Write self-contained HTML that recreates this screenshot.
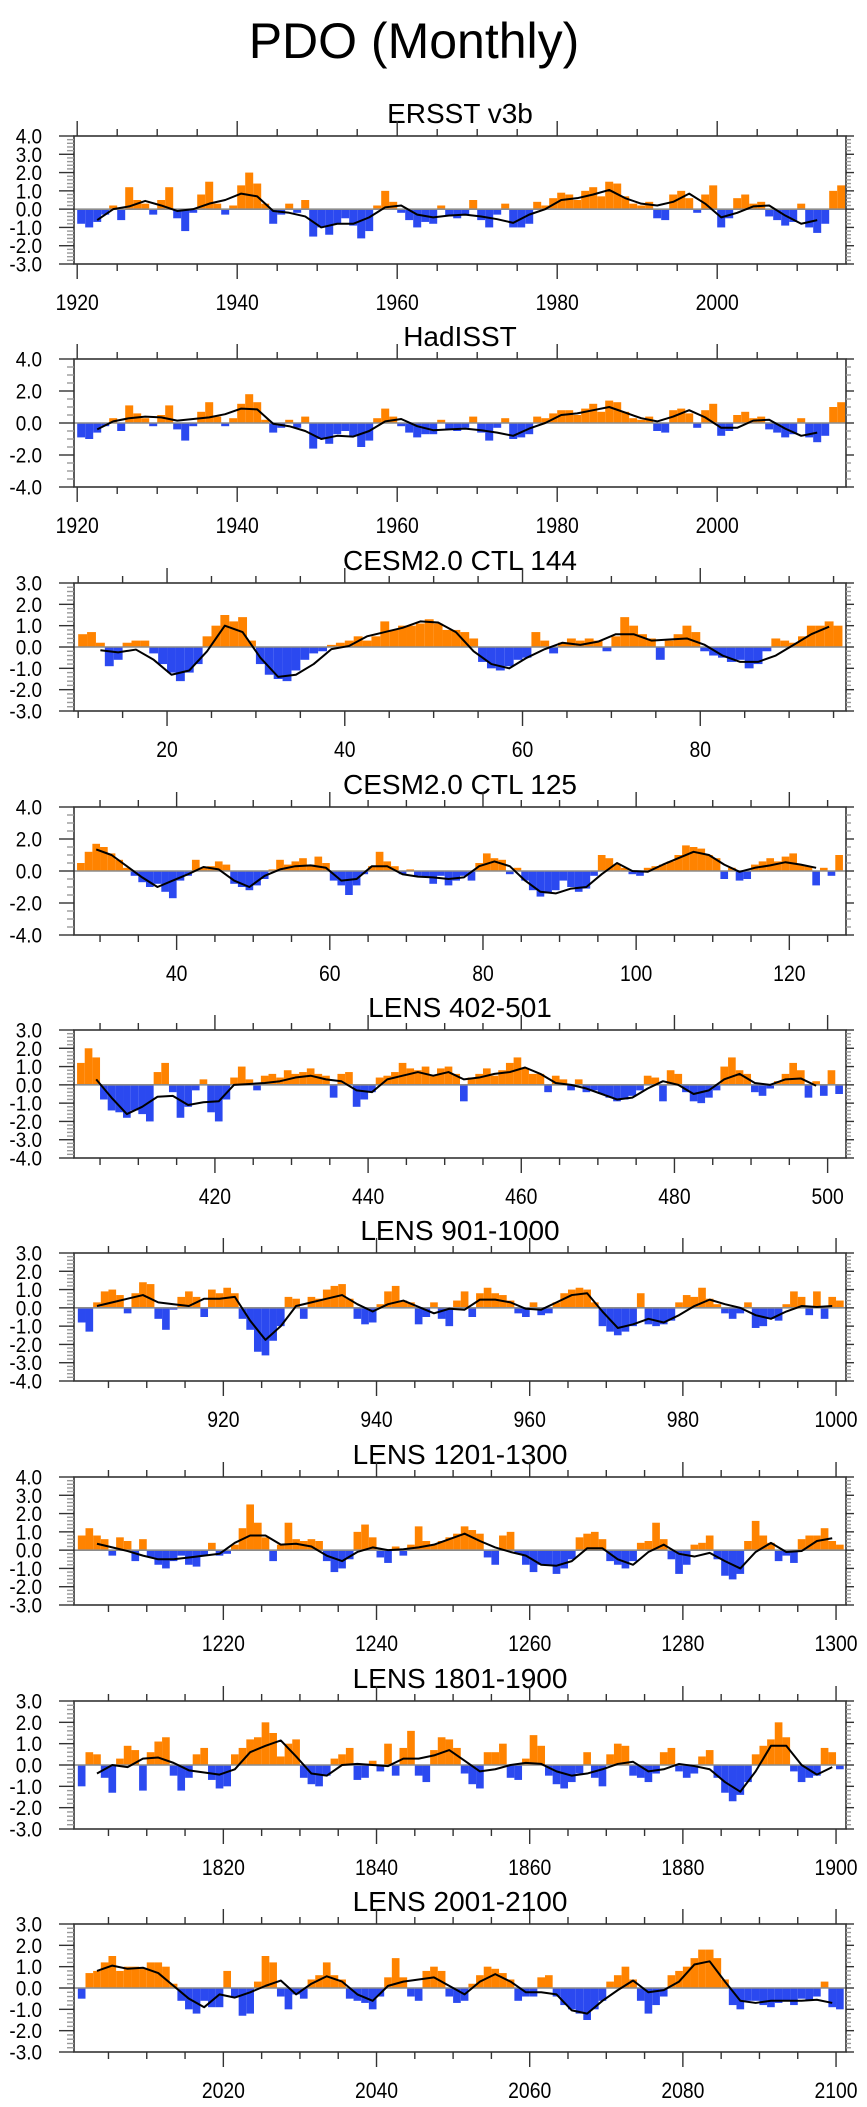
<!DOCTYPE html>
<html>
<head>
<meta charset="utf-8">
<style>
html,body{margin:0;padding:0;background:#fff;}
svg{display:block;}
text{font-family:"Liberation Sans",Arial,sans-serif;fill:#000;}
</style>
</head>
<body>
<svg id="chart" width="867" height="2107" viewBox="0 0 867 2107" xmlns="http://www.w3.org/2000/svg">
<text x="414" y="58" font-size="50" text-anchor="middle">PDO (Monthly)</text>
</svg>
<script>
// ---------- data (yearly-averaged estimates of monthly PDO index) ----------
const ersstStart = 1920;
const ersstVals = [-0.8,-1.0,-0.7,-0.3,0.2,-0.6,1.2,0.5,0.3,-0.3,0.5,1.2,-0.5,-1.2,-0.2,0.8,1.5,0.3,-0.3,0.2,
1.3,2.0,1.4,0.3,-0.8,-0.3,0.3,-0.2,0.5,-1.5,-1.0,-1.4,-0.8,-0.5,-0.9,-1.6,-1.2,0.2,1.0,0.4,
-0.2,-0.6,-1.0,-0.7,-0.8,0.2,-0.4,-0.5,-0.3,0.5,-0.6,-1.0,-0.3,0.3,-1.0,-1.0,-0.8,0.4,0.2,0.6,
0.9,0.8,0.5,1.0,1.2,0.7,1.5,1.4,0.7,0.3,0.2,0.4,-0.5,-0.6,0.8,1.0,0.6,-0.2,0.8,1.3,
-1.0,-0.5,0.6,0.8,0.3,0.4,-0.4,-0.6,-0.9,-0.7,0.3,-1.0,-1.3,-0.8,1.0,1.3];
const ersstLineStart = 1922;
const ersstLine = [-0.6,0.0,0.15,0.45,0.2,-0.1,0.0,0.3,0.5,0.85,0.7,-0.1,-0.2,-0.4,-1.0,-0.8,-0.8,-0.45,0.1,0.2,
-0.3,-0.45,-0.35,-0.3,-0.4,-0.55,-0.75,-0.3,0.0,0.5,0.6,0.8,1.05,0.6,0.3,0.2,0.4,0.85,0.3,-0.45,
-0.2,0.15,0.2,-0.35,-0.8,-0.6];

const hadStart = 1920;
const hadVals = [-0.9,-1.0,-0.6,-0.2,0.3,-0.5,1.1,0.6,0.3,-0.2,0.5,1.1,-0.4,-1.1,-0.2,0.7,1.3,0.4,-0.2,0.3,
1.2,1.8,1.3,0.2,-0.6,-0.3,0.2,-0.3,0.4,-1.6,-1.0,-1.3,-0.7,-0.5,-0.8,-1.5,-1.1,0.3,0.9,0.4,
-0.2,-0.6,-0.9,-0.7,-0.7,0.2,-0.4,-0.5,-0.3,0.4,-0.6,-1.1,-0.3,0.3,-1.0,-0.9,-0.7,0.4,0.3,0.6,
0.8,0.8,0.5,0.9,1.2,0.7,1.4,1.3,0.7,0.3,0.2,0.4,-0.5,-0.6,0.8,0.9,0.6,-0.3,0.8,1.2,
-0.8,-0.5,0.5,0.7,0.3,0.4,-0.4,-0.6,-0.9,-0.7,0.3,-0.9,-1.2,-0.8,1.0,1.3];
const hadLineStart = 1922;
const hadLine = [-0.4,0.1,0.3,0.4,0.35,0.15,0.25,0.35,0.55,0.9,0.85,-0.05,-0.2,-0.5,-1.0,-0.8,-0.85,-0.5,0.1,0.25,
-0.2,-0.45,-0.4,-0.35,-0.45,-0.6,-0.8,-0.35,0.0,0.5,0.6,0.8,1.0,0.65,0.3,0.1,0.4,0.8,0.35,-0.3,
-0.3,0.15,0.2,-0.35,-0.8,-0.6];

const c144Start = 10;
const c144Vals = [0.6,0.7,0.2,-0.9,-0.6,0.2,0.3,0.3,-0.3,-0.8,-1.2,-1.6,-1.2,-0.8,0.5,1.0,1.5,1.2,1.4,0.3,
-0.8,-1.3,-1.5,-1.6,-1.1,-0.6,-0.3,-0.2,0.1,0.2,0.3,0.5,0.3,0.5,1.2,0.8,1.0,1.0,1.1,1.3,
1.1,0.8,0.8,0.7,0.4,-0.7,-1.0,-1.1,-0.9,-0.6,-0.5,0.7,0.3,-0.3,0.2,0.4,0.3,0.4,0.3,-0.2,
0.5,1.4,1.0,0.6,0.4,-0.6,0.3,0.6,1.0,0.7,-0.2,-0.4,-0.5,-0.7,-0.6,-1.0,-0.8,-0.2,0.4,0.3,
0.2,0.5,1.0,1.0,1.2,1.0];
const c144LineStart = 12;
const c144Line = [-0.15,-0.25,-0.12,-0.6,-1.3,-1.1,-0.2,1.0,0.7,-0.5,-1.4,-1.3,-0.8,-0.1,0.05,0.5,0.7,0.9,1.2,1.15,
0.7,-0.2,-0.8,-1.0,-0.5,-0.1,0.2,0.1,0.25,0.6,0.6,0.3,0.35,0.4,0.1,-0.4,-0.7,-0.7,-0.4,0.1,
0.6,0.95];

const c125Start = 27;
const c125Vals = [0.5,1.2,1.7,1.5,1.1,0.7,0.2,-0.3,-0.7,-1.0,-0.8,-1.3,-1.7,-0.6,-0.3,0.7,0.2,0.3,0.6,0.4,
-0.8,-1.0,-1.2,-0.9,-0.5,0.1,0.7,0.4,0.6,0.8,0.4,0.9,0.5,-0.6,-0.9,-1.5,-0.9,-0.2,0.3,1.2,
0.6,0.3,-0.2,0.1,-0.3,-0.4,-0.8,-0.3,-0.9,-0.6,-0.3,-0.6,0.5,1.1,0.8,0.7,-0.2,0.2,-0.6,-1.2,
-1.6,-1.4,-1.2,-0.6,-1.0,-1.3,-1.1,-0.3,1.0,0.8,0.4,0.2,-0.2,-0.3,0.2,0.3,0.4,0.6,1.0,1.6,
1.5,1.4,1.0,0.8,-0.5,0.2,-0.6,-0.5,0.4,0.6,0.8,0.6,0.9,1.1,0.4,0.3,-0.9,0.2,-0.3,1.0];
const c125LineStart = 29;
const c125Line = [1.35,1.0,0.3,-0.4,-1.0,-0.6,-0.2,0.25,0.1,-0.6,-1.0,-0.3,0.1,0.3,0.35,0.2,-0.6,-0.5,0.3,0.3,
-0.2,-0.35,-0.4,-0.5,-0.4,0.3,0.6,0.3,-0.6,-1.3,-1.4,-1.1,-1.0,-0.2,0.5,0.0,-0.05,0.4,0.8,1.2,
1.0,0.4,-0.05,0.2,0.35,0.55,0.4,0.2];

const l402Start = 402;
const l402Vals = [1.2,2.0,1.5,-0.8,-1.4,-1.5,-1.8,-1.4,-1.6,-2.0,0.7,1.2,-0.4,-1.8,-1.2,-0.3,0.3,-1.5,-2.0,-0.8,
0.4,1.0,0.3,-0.3,0.5,0.6,0.4,0.8,0.6,0.7,0.9,0.6,0.5,-0.7,0.6,0.7,-1.2,-0.8,-0.4,0.4,
0.5,0.7,1.2,0.9,0.8,1.0,0.5,0.9,1.0,0.6,-0.9,0.4,0.6,0.9,0.5,0.8,1.2,1.5,0.9,0.6,
0.6,-0.4,0.5,0.3,-0.3,0.3,-0.4,-0.3,-0.5,-0.7,-0.9,-0.8,-0.6,-0.3,0.5,0.4,-0.9,0.8,0.6,-0.4,
-0.9,-1.0,-0.7,-0.3,1.0,1.5,0.8,0.6,-0.4,-0.6,-0.2,0.2,0.6,1.2,0.8,-0.7,0.2,-0.6,0.8,-0.5];
const l402LineStart = 404;
const l402Line = [0.3,-0.7,-1.6,-1.2,-0.65,-0.6,-1.1,-0.95,-0.9,0.0,0.05,0.1,0.2,0.4,0.5,0.3,0.2,-0.3,-0.4,0.3,
0.5,0.7,0.5,0.7,0.3,0.4,0.6,0.7,0.95,0.6,0.1,0.0,-0.2,-0.5,-0.8,-0.7,-0.2,0.2,0.0,-0.5,
-0.3,0.3,0.6,0.1,0.0,0.3,0.35,-0.05];

const l901Start = 901;
const l901Vals = [-0.8,-1.3,0.3,0.9,1.0,0.7,-0.3,0.8,1.4,1.3,-0.6,-1.2,-0.1,0.6,0.9,0.6,-0.5,1.0,0.8,1.1,
0.8,-0.6,-1.2,-2.4,-2.6,-1.8,-1.0,0.6,0.5,-0.6,0.6,0.5,1.0,1.2,1.3,0.5,-0.6,-0.9,-0.8,0.2,
0.9,1.2,0.4,0.3,-0.9,-0.5,0.3,-0.6,-1.0,0.4,0.9,-0.5,0.8,1.1,0.8,0.7,0.4,-0.3,-0.5,0.3,
-0.4,-0.3,0.3,0.8,1.0,1.1,1.0,0.3,-1.0,-1.3,-1.5,-1.3,-1.0,0.8,-0.9,-1.0,-0.9,-0.7,0.3,0.7,
0.6,1.1,0.5,0.2,-0.3,-0.6,-0.3,0.3,-1.1,-1.0,-0.6,-0.7,0.2,0.9,0.6,-0.4,0.9,-0.6,0.6,0.4];
const l901LineStart = 903;
const l901Line = [0.1,0.3,0.5,0.7,0.3,0.2,0.1,0.5,0.5,0.6,-0.7,-1.75,-1.0,0.1,0.3,0.5,0.7,0.2,-0.2,0.2,
0.4,0.05,-0.3,-0.05,-0.1,0.45,0.45,0.3,-0.05,-0.1,0.3,0.7,0.8,-0.2,-1.1,-0.9,-0.6,-0.8,-0.4,0.1,
0.45,0.2,0.0,-0.4,-0.6,-0.2,0.1,0.05,0.1];

const l1201Start = 1201;
const l1201Vals = [0.8,1.2,0.8,0.6,-0.3,0.7,0.5,-0.6,0.6,-0.4,-0.8,-1.0,-0.6,-0.3,-0.8,-0.9,-0.3,0.4,-0.3,-0.2,
0.3,1.2,2.5,1.5,0.7,-0.6,0.3,1.5,0.6,0.5,0.6,0.5,-0.6,-1.2,-1.0,-0.5,1.0,1.4,0.7,-0.4,
-0.7,0.2,-0.3,0.3,1.3,0.5,0.3,0.5,0.7,0.9,1.3,1.1,0.9,-0.4,-0.8,0.8,1.0,-0.2,-0.8,-1.2,
-0.8,-0.8,-1.3,-1.0,-0.5,0.7,0.9,1.0,0.6,-0.6,-0.8,-1.0,-0.6,0.4,0.5,1.5,0.6,-0.5,-1.3,-0.8,
0.3,0.4,0.8,-0.5,-1.4,-1.6,-1.3,0.5,1.6,0.8,0.4,-0.6,-0.3,-0.7,0.6,0.8,0.8,1.2,0.5,0.3];
const l1201LineStart = 1203;
const l1201Line = [0.35,0.15,-0.05,-0.3,-0.5,-0.5,-0.4,-0.3,-0.2,0.4,0.8,0.8,0.3,0.35,0.2,-0.3,-0.6,-0.1,0.15,0.0,
0.05,0.15,0.3,0.6,0.9,0.5,0.15,-0.1,-0.3,-0.8,-0.85,-0.6,0.1,0.1,-0.5,-0.8,-0.1,0.3,-0.2,-0.35,
-0.15,-0.6,-1.0,-0.1,0.4,-0.1,-0.05,0.5,0.65];

const l1801Start = 1801;
const l1801Vals = [-1.0,0.6,0.5,-0.6,-1.3,0.3,0.9,0.7,-1.2,0.6,1.1,1.3,-0.5,-1.2,-0.6,0.5,0.8,-0.7,-1.1,-1.0,
0.5,0.8,1.2,1.3,2.0,1.5,0.4,1.0,1.2,-0.6,-0.9,-1.0,-0.5,0.3,0.5,0.8,-0.7,-0.6,0.2,-0.3,
1.0,-0.5,0.8,1.6,-0.5,-0.8,0.7,1.3,1.2,0.8,-0.4,-0.9,-1.1,0.6,0.6,1.0,-0.6,-0.7,0.3,1.4,
0.9,-0.5,-0.9,-1.1,-0.8,-0.4,0.6,-0.6,-1.0,0.5,1.0,0.9,-0.5,-0.6,-0.8,-0.4,0.6,0.8,-0.3,-0.6,
-0.4,0.4,0.7,-0.6,-1.3,-1.7,-1.4,-0.8,0.5,0.9,1.2,2.0,1.3,-0.3,-0.8,-0.6,-0.5,0.8,0.6,-0.2];
const l1801LineStart = 1803;
const l1801Line = [-0.4,0.0,-0.1,0.3,0.35,0.1,-0.25,-0.35,-0.45,-0.2,0.6,0.9,1.15,0.4,-0.4,-0.5,0.0,0.05,0.0,-0.05,
0.3,0.3,0.45,0.7,0.2,-0.3,-0.2,0.0,0.1,0.05,-0.3,-0.5,-0.4,-0.2,0.05,0.15,-0.3,-0.2,0.05,-0.05,
-0.2,-0.8,-1.25,-0.3,0.9,0.9,0.0,-0.45,-0.1];

const l2001Start = 2001;
const l2001Vals = [-0.5,0.7,0.8,1.2,1.5,0.8,1.0,1.0,0.9,1.2,1.2,1.0,0.2,-0.6,-1.0,-1.2,-0.6,-0.9,-0.9,0.8,
-0.4,-1.3,-1.2,0.3,1.5,1.2,-0.4,-1.0,-0.3,-0.5,0.4,0.6,1.2,0.6,0.4,-0.5,-0.6,-0.7,-1.0,-0.4,
0.5,1.4,0.5,-0.4,-0.6,0.8,1.0,0.8,-0.4,-0.7,-0.6,0.2,0.6,1.0,0.9,0.7,0.4,-0.6,-0.4,-0.4,
0.5,0.6,-0.4,-0.8,-1.0,-1.2,-1.5,-1.0,-0.6,0.3,0.6,1.0,0.4,-0.6,-1.2,-0.8,-0.4,0.6,0.8,1.0,
1.4,1.8,1.8,1.4,0.4,-0.8,-1.0,-0.6,-0.6,-0.8,-0.9,-0.7,-0.6,-0.8,-0.5,-0.6,-0.4,0.3,-0.9,-1.0];
const l2001LineStart = 2003;
const l2001Line = [0.8,1.05,0.9,0.95,0.7,0.1,-0.5,-0.9,-0.3,-0.45,-0.2,0.1,0.35,-0.3,0.2,0.55,0.3,-0.3,-0.6,0.1,
0.3,0.4,0.5,0.1,-0.3,0.3,0.65,0.3,-0.2,-0.2,-0.3,-1.05,-1.2,-0.6,-0.1,0.35,-0.2,-0.1,0.3,1.1,
1.25,0.3,-0.6,-0.7,-0.6,-0.6,-0.6,-0.55,-0.7];

// ---------- panel axis configs ----------
const panelTitles = ["ERSST v3b","HadISST","CESM2.0 CTL 144","CESM2.0 CTL 125","LENS 402-501","LENS 901-1000","LENS 1201-1300","LENS 1801-1900","LENS 2001-2100"];
const panelVals = [ersstVals,hadVals,c144Vals,c125Vals,l402Vals,l901Vals,l1201Vals,l1801Vals,l2001Vals];
const panelStarts = [ersstStart,hadStart,c144Start,c125Start,l402Start,l901Start,l1201Start,l1801Start,l2001Start];
const panelLines = [ersstLine,hadLine,c144Line,c125Line,l402Line,l901Line,l1201Line,l1801Line,l2001Line];
const panelLineStarts = [ersstLineStart,hadLineStart,c144LineStart,c125LineStart,l402LineStart,l901LineStart,l1201LineStart,l1801LineStart,l2001LineStart];
const xMins = [1919.6,1919.6,9.53,26.6,401.6,900.5,1200.5,1800.5,2000.5];
const xMaxs = [2016.1,2016.1,96.4,127.4,502.4,1001.3,1301.3,1901.3,2101.3];
const xLabelStart = [1920,1920,20,40,420,920,1220,1820,2020];
const xLabelEnd = [2000,2000,80,120,500,1000,1300,1900,2100];
const yMins = [-3,-4,-3,-4,-4,-4,-3,-3,-3];
const yMaxs = [4,4,3,4,3,3,4,3,3];
const yMajor = [1,2,1,2,1,1,1,1,1];
const yMinor = [0.2,0.5,0.2,0.5,0.2,0.2,0.2,0.2,0.2];

// ---------- layout ----------
const svg = document.getElementById('chart');
const NS = 'http://www.w3.org/2000/svg';
const plotLeft = 74, plotRight = 846, plotH = 128;
const plotTops = [136,359,583,807,1030,1253,1477,1701,1924];
const ORANGE = '#ff8300', BLUE = '#2b49f0';

function mk(tag, attrs, parent){
  const e = document.createElementNS(NS, tag);
  for (const k in attrs) e.setAttribute(k, attrs[k]);
  (parent||svg).appendChild(e);
  return e;
}

for (let p = 0; p < 9; p++) {
  const top = plotTops[p], bot = top + plotH;
  const X = v => plotLeft + (v - xMins[p]) / (xMaxs[p] - xMins[p]) * (plotRight - plotLeft);
  const Y = v => bot - (v - yMins[p]) / (yMaxs[p] - yMins[p]) * plotH;

  const g = mk('g', {});
  
  

  const t = mk('text', {x: 460, y: top - 13, 'font-size': 28, 'text-anchor': 'middle'}, g);
  t.textContent = panelTitles[p];
  
  

  // bars
  const bars = mk('g', {}, g);
  
  
  const vals = panelVals[p];
  for (let i = 0; i < vals.length; i++) {
    const yr = panelStarts[p] + i, v = vals[i];
    const x0 = X(yr), x1 = X(yr + 1);
    const y0 = Y(0), y1 = Y(v);
    const r = mk('rect', {x: x0.toFixed(2), y: Math.min(y0,y1).toFixed(2), width: (x1-x0).toFixed(2), height: Math.abs(y1-y0).toFixed(2), fill: v >= 0 ? ORANGE : BLUE}, bars);
    
    
  }
  // zero line
  const z = mk('line', {x1: plotLeft, x2: plotRight, y1: Y(0), y2: Y(0), stroke: '#8c8c8c', 'stroke-width': 1.6}, g);
  
  

  // smoothed line
  const ln = panelLines[p];
  let d = '';
  for (let i = 0; i < ln.length; i++) {
    const yr = panelLineStarts[p] + 2 * i;
    d += (i ? 'L' : 'M') + X(yr + 0.5).toFixed(2) + ',' + Y(ln[i]).toFixed(2);
  }
  const path = mk('path', {d: d, fill: 'none', stroke: '#000', 'stroke-width': 2, 'stroke-linejoin': 'round'}, g);
  
  

  // frame
  const fr = mk('rect', {x: plotLeft, y: top, width: plotRight - plotLeft, height: plotH, fill: 'none', stroke: '#333', 'stroke-width': 1.6}, g);
  
  

  // x ticks
  const tk = mk('g', {stroke: '#333', 'stroke-width': 1.4}, g);
  
  
  const firstT = Math.ceil(xMins[p] / 5) * 5;
  for (let v = firstT; v <= xMaxs[p]; v += 5) {
    const major = (v - xLabelStart[p]) % 20 === 0;
    const L = major ? 15 : 7, x = X(v);
    mk('line', {x1: x, x2: x, y1: bot, y2: bot + L}, tk);
    mk('line', {x1: x, x2: x, y1: top, y2: top - L}, tk);
  }
  for (let v = xLabelStart[p]; v <= xLabelEnd[p]; v += 20) {
    const lt = mk('text', {x: 0, y: 0, 'font-size': 22, 'text-anchor': 'middle', transform: 'translate(' + X(v).toFixed(2) + ',' + (bot + 46) + ') scale(0.88,1)'}, g);
    lt.textContent = String(v);
    
    
  }
  // y ticks
  const nMin = Math.round((yMaxs[p] - yMins[p]) / yMinor[p]);
  for (let k = 0; k <= nMin; k++) {
    const v = yMins[p] + k * yMinor[p], y = Y(v);
    const major = Math.abs(v / yMajor[p] - Math.round(v / yMajor[p])) < 1e-6;
    mk('line', {x1: plotLeft, x2: plotLeft - (major ? 15 : 7), y1: y, y2: y, stroke: major ? '#333' : '#999'}, tk);
    mk('line', {x1: plotRight, x2: plotRight + (major ? 8 : 5), y1: y, y2: y, stroke: major ? '#333' : '#999'}, tk);
  }
  for (let v = yMins[p]; v <= yMaxs[p] + 1e-6; v += yMajor[p]) {
    const yt = mk('text', {x: 0, y: 0, 'font-size': 21, 'text-anchor': 'end', transform: 'translate(42,' + (Y(v) + 7.5).toFixed(2) + ') scale(0.9,1)'}, g);
    yt.textContent = v.toFixed(1);
    
    
  }
}
</script>
</body>
</html>
